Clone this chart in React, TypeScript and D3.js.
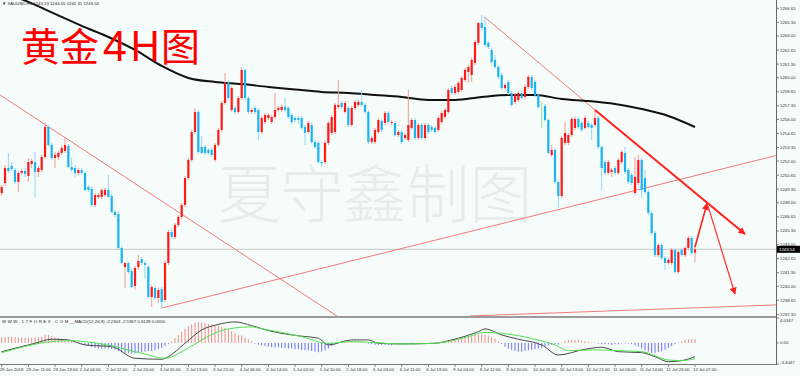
import React from "react";
import * as d3 from "d3";

// ---------- DATA ----------
// [open, high, low, close] for each H1 bar, 29 Jun 03:00 .. 12 Jul 07:00
const ohlc: number[][] = [
  [1248.94,1249.71,1248.65,1249.52],[1249.90,1251.63,1249.61,1251.34],[1251.34,1252.78,1250.86,1251.05],[1251.53,1251.91,1251.05,1251.24],
  [1251.15,1251.34,1249.80,1250.00],[1250.00,1251.05,1249.04,1250.86],[1250.86,1251.24,1250.67,1251.05],[1251.05,1251.34,1250.48,1250.76],
  [1250.57,1252.30,1250.00,1251.91],[1251.72,1252.20,1251.34,1252.01],[1251.91,1252.87,1248.56,1250.96],[1250.96,1251.53,1250.48,1251.34],
  [1251.15,1252.59,1250.96,1252.39],[1252.39,1255.66,1252.20,1255.27],[1255.27,1255.46,1253.35,1253.54],[1253.54,1253.74,1252.11,1252.30],
  [1252.30,1252.87,1251.34,1252.59],[1252.39,1252.97,1252.11,1252.78],[1252.78,1253.45,1252.59,1253.26],[1252.97,1254.22,1252.78,1253.54],
  [1253.45,1253.64,1251.34,1251.43],[1251.43,1252.30,1250.96,1251.15],[1251.34,1251.63,1250.48,1250.86],[1250.86,1251.34,1250.67,1251.15],
  [1251.15,1251.34,1250.67,1250.86],[1250.86,1251.05,1249.13,1249.23],[1249.52,1249.71,1249.04,1249.23],[1249.33,1249.61,1247.60,1247.79],
  [1247.79,1248.94,1247.60,1248.75],[1248.56,1248.94,1248.37,1248.75],[1248.56,1249.42,1248.37,1249.23],[1248.75,1249.42,1248.56,1249.23],
  [1249.23,1250.67,1248.46,1248.56],[1248.65,1248.94,1247.02,1247.12],[1247.12,1247.31,1246.64,1246.83],[1246.93,1247.22,1243.57,1243.67],
  [1243.67,1243.86,1242.13,1242.23],[1241.84,1242.32,1239.83,1242.23],[1242.23,1242.42,1241.17,1241.37],[1241.46,1241.75,1239.83,1239.93],
  [1240.02,1241.94,1239.64,1241.75],[1241.84,1242.99,1241.56,1242.42],[1242.61,1242.80,1242.04,1242.23],[1242.23,1242.42,1240.79,1242.04],
  [1241.84,1242.04,1238.87,1238.97],[1238.97,1240.12,1238.01,1239.93],[1239.83,1240.02,1238.68,1238.87],[1238.87,1239.83,1238.39,1239.64],
  [1239.73,1239.93,1237.91,1238.49],[1238.68,1242.42,1238.49,1242.23],[1242.23,1245.39,1242.04,1245.20],[1245.20,1245.49,1244.53,1244.72],
  [1244.72,1246.06,1244.53,1245.87],[1245.87,1246.83,1245.68,1246.64],[1246.64,1247.98,1246.45,1247.79],[1247.79,1250.57,1247.60,1250.38],
  [1250.38,1252.30,1250.19,1252.11],[1252.11,1254.99,1251.91,1254.79],[1254.79,1257.09,1254.60,1256.71],[1256.71,1256.90,1252.68,1252.87],
  [1253.35,1254.31,1252.68,1252.78],[1253.35,1253.54,1252.59,1252.78],[1253.07,1253.26,1252.59,1252.78],[1253.07,1253.26,1252.39,1252.59],
  [1252.11,1253.74,1251.91,1253.54],[1253.54,1255.18,1253.35,1254.99],[1254.99,1257.76,1254.79,1257.57],[1257.57,1260.45,1257.38,1259.49],
  [1259.49,1259.78,1257.86,1258.05],[1256.90,1259.20,1256.71,1259.01],[1257.09,1257.29,1256.52,1256.71],[1256.71,1258.24,1256.52,1258.05],
  [1258.05,1261.02,1257.86,1260.74],[1260.74,1260.83,1257.86,1258.05],[1258.05,1258.24,1256.52,1256.71],[1256.71,1257.09,1256.52,1256.90],
  [1257.09,1257.29,1256.52,1256.71],[1256.90,1257.09,1254.03,1254.79],[1254.79,1256.33,1254.60,1256.13],[1255.75,1256.61,1255.56,1256.42],
  [1256.13,1256.61,1255.94,1256.42],[1255.75,1256.42,1255.56,1256.23],[1256.23,1258.53,1256.04,1256.90],[1256.90,1257.29,1256.71,1257.09],
  [1256.90,1257.38,1256.71,1257.19],[1257.19,1258.05,1256.71,1256.90],[1257.09,1257.29,1256.04,1256.23],[1256.42,1256.61,1255.56,1255.75],
  [1256.13,1256.33,1255.75,1255.94],[1256.13,1256.33,1255.56,1255.94],[1256.13,1256.33,1254.99,1255.18],[1255.27,1255.46,1253.54,1254.70],
  [1254.79,1255.85,1254.60,1255.66],[1255.46,1255.75,1253.64,1253.83],[1253.83,1254.03,1253.16,1253.35],[1253.74,1253.93,1251.72,1251.91],
  [1251.91,1252.11,1251.43,1251.82],[1251.91,1253.93,1251.72,1253.74],[1253.74,1255.85,1253.54,1255.66],[1254.70,1256.42,1254.50,1256.23],
  [1254.79,1257.57,1254.60,1257.38],[1257.19,1259.78,1257.00,1257.38],[1257.57,1257.76,1257.00,1257.19],[1256.71,1257.76,1256.52,1257.57],
  [1257.09,1257.29,1255.27,1255.46],[1255.46,1257.29,1255.27,1257.09],[1257.09,1257.86,1256.90,1257.67],[1257.38,1257.86,1257.19,1257.67],
  [1257.67,1258.82,1257.19,1257.38],[1257.38,1257.57,1256.52,1256.71],[1256.71,1256.90,1253.64,1253.83],[1253.83,1254.41,1253.64,1254.22],
  [1253.83,1255.18,1253.64,1254.99],[1254.79,1256.13,1254.60,1255.94],[1255.85,1256.04,1254.79,1254.99],[1255.66,1256.80,1255.46,1256.61],
  [1256.61,1256.80,1255.56,1255.75],[1255.66,1255.94,1255.46,1255.75],[1255.66,1255.85,1254.31,1254.50],[1254.50,1254.99,1254.31,1254.79],
  [1254.79,1254.99,1253.64,1253.83],[1254.22,1254.70,1254.03,1254.50],[1254.03,1258.82,1253.83,1255.46],[1255.18,1256.13,1254.99,1255.94],
  [1255.94,1256.13,1254.03,1254.22],[1254.22,1255.66,1254.03,1255.46],[1255.46,1255.66,1254.03,1254.22],[1254.22,1255.66,1254.03,1255.46],
  [1255.46,1255.66,1254.60,1254.79],[1255.27,1255.46,1254.79,1254.99],[1255.18,1255.37,1254.60,1254.79],[1254.99,1256.33,1254.79,1256.13],
  [1255.75,1256.80,1255.56,1256.61],[1256.23,1257.09,1256.04,1256.90],[1256.71,1259.01,1256.52,1258.82],[1259.01,1259.20,1258.34,1258.53],
  [1258.53,1259.30,1258.34,1259.11],[1258.63,1259.68,1258.44,1259.49],[1258.82,1260.16,1258.63,1259.97],[1259.78,1260.93,1259.59,1260.74],
  [1260.55,1261.22,1259.49,1261.02],[1260.26,1261.89,1259.59,1261.70],[1261.41,1263.61,1261.22,1263.42],[1263.33,1265.34,1263.13,1265.24],
  [1265.24,1266.01,1264.57,1264.76],[1264.86,1265.82,1262.94,1263.13],[1263.33,1263.52,1262.75,1262.94],[1262.66,1262.85,1261.31,1261.50],
  [1261.70,1262.18,1260.83,1261.02],[1261.02,1261.22,1259.87,1260.07],[1260.26,1260.45,1258.82,1259.01],[1259.01,1259.49,1258.82,1259.30],
  [1259.59,1259.78,1258.34,1258.53],[1258.53,1258.72,1257.19,1257.38],[1257.67,1258.53,1257.48,1258.34],[1257.86,1258.72,1257.67,1258.53],
  [1258.53,1258.72,1257.86,1258.05],[1258.15,1259.30,1257.96,1259.11],[1259.11,1260.26,1258.92,1260.07],[1260.07,1260.26,1258.82,1259.01],
  [1259.59,1259.78,1258.15,1258.34],[1258.34,1258.53,1257.00,1257.19],[1257.38,1257.67,1255.18,1257.38],[1257.29,1257.48,1255.75,1255.94],
  [1255.94,1256.13,1252.68,1252.78],[1252.59,1253.54,1252.39,1253.07],[1253.07,1253.26,1249.80,1250.00],[1250.00,1250.19,1247.50,1248.65],
  [1248.65,1254.41,1248.46,1254.22],[1253.74,1255.75,1253.54,1254.70],[1253.74,1254.70,1253.54,1254.50],[1254.50,1256.23,1254.31,1256.04],
  [1255.18,1256.23,1254.99,1256.04],[1256.04,1256.23,1255.08,1255.27],[1255.66,1255.85,1254.79,1254.99],[1255.18,1256.33,1254.99,1256.13],
  [1255.66,1255.85,1255.08,1255.27],[1255.46,1255.66,1254.03,1255.18],[1255.46,1256.90,1255.27,1256.13],[1256.13,1256.33,1253.16,1253.35],
  [1253.35,1253.54,1249.23,1251.34],[1251.91,1252.11,1250.67,1250.86],[1250.86,1252.11,1250.67,1251.91],[1250.96,1251.34,1250.48,1251.15],
  [1251.34,1251.53,1250.67,1250.86],[1250.86,1252.30,1250.67,1252.11],[1251.91,1253.07,1251.72,1252.87],[1252.78,1253.35,1250.76,1250.96],
  [1251.15,1251.34,1249.80,1250.00],[1250.67,1250.86,1249.71,1249.90],[1248.94,1252.39,1248.75,1250.48],[1249.90,1252.59,1249.71,1252.11],
  [1252.11,1252.30,1248.46,1249.23],[1250.38,1251.15,1248.85,1249.04],[1249.04,1249.23,1246.83,1247.02],[1247.02,1247.22,1244.91,1245.10],
  [1245.10,1245.30,1242.80,1242.99],[1242.99,1244.15,1242.80,1243.95],[1243.95,1244.15,1242.52,1242.71],[1242.71,1242.90,1241.56,1242.23],
  [1242.23,1242.71,1242.04,1242.52],[1242.23,1243.67,1242.04,1243.48],[1243.48,1243.67,1241.27,1241.37],[1241.37,1243.48,1241.17,1243.28],
  [1243.48,1243.67,1242.80,1242.99],[1242.99,1243.86,1242.80,1243.67],[1243.67,1244.82,1243.48,1244.63],[1244.63,1244.82,1242.99,1243.19],
  [1243.23,1244.05,1242.31,1243.54],
];

const lastPrice = 1243.54;

// slow moving average (black), sampled every 8 bars: [barIndex, price]
const maPts: number[][] = [
  [0,1268.22],[8,1267.26],[16,1266.11],[24,1264.96],[32,1263.90],[40,1262.66],[48,1261.12],[56,1259.97],
  [64,1259.59],[72,1259.39],[80,1259.11],[88,1258.87],[96,1258.63],[104,1258.53],[112,1258.34],[120,1258.15],
  [128,1257.86],[136,1257.86],[144,1258.15],[152,1258.34],[160,1258.34],[168,1257.96],[176,1257.76],[184,1257.48],
  [192,1257.00],[200,1256.33],[208,1255.27],
];

// MACD(12,26,9) lines: [barIndex, value]
const difPts: number[][] = [
  [0,-1.41],[10,-0.05],[15,0.60],[20,0.49],[25,-0.32],[33,-0.60],[40,-2.48],[48,-2.64],[50,-2.22],[55,-0.05],
  [60,2.10],[65,3.0],[70,3.40],[75,2.8],[80,2.0],[85,1.46],[90,1.1],[95,0.76],[98,-0.32],[105,0.49],[110,0.49],
  [113,-0.05],[120,-0.16],[130,-0.05],[135,0.49],[143,1.83],[145,2.27],[150,1.29],[155,0.60],[162,-0.32],
  [167,-1.94],[175,-1.02],[180,-0.70],[185,-1.41],[192,-1.57],[196,-2.22],[200,-3.03],[204,-2.86],[208,-2.23],
];
const deaPts: number[][] = [
  [0,-1.57],[15,0.21],[20,0.37],[30,-0.16],[42,-1.67],[49,-2.48],[55,-1.13],[60,0.49],[65,1.83],[70,2.43],
  [75,2.6],[78,2.3],[90,1.02],[98,-0.05],[105,0.21],[120,-0.16],[130,-0.05],[140,1.02],[145,1.7],[150,1.55],
  [160,0.6],[166,-0.32],[170,-1.25],[178,-1.13],[185,-1.25],[192,-1.41],[200,-2.75],[204,-2.86],[208,-2.54],
];
const hist: number[] = [
  0.9,0.95,1.0,1.0,0.95,0.9,0.9,0.85, 0.85,0.9,0.9,0.9,1.0,1.35,1.3,1.1,
  0.9,0.8,0.7,0.6,0.4,0.3,0.2,0.1, -0.1,-0.3,-0.5,-0.7,-0.8,-0.9,-0.9,-0.9,
  -0.9,-1.0,-1.1,-1.3,-1.5,-1.6,-1.65,-1.7, -1.7,-1.6,-1.5,-1.4,-1.3,-1.3,-1.2,-1.0,
  -0.8,-0.5,-0.2,0.3,0.8,1.3,1.8,2.3, 2.7,3.0,3.3,3.4,3.3,3.2,3.1,3.0,
  2.9,2.8,2.6,2.4,2.2,1.9,1.6,1.3, 1.2,0.9,0.6,0.3,-0.1,-0.3,-0.4,-0.5,
  -0.6,-0.7,-0.7,-0.7,-0.8,-0.8,-0.9,-0.9, -1.0,-1.0,-1.1,-1.2,-1.2,-1.3,-1.4,-1.5,
  -1.4,-1.2,-0.9,-0.5,-0.2,0.1,0.2,0.2, 0.1,0.2,0.2,0.2,0.2,0.1,-0.1,-0.2,
  -0.3,-0.3,-0.3,-0.3,-0.3,-0.3,-0.2,-0.2, -0.1,-0.1,0.02,0.1,0.02,0.02,-0.1,0.02,
  0.02,-0.1,0.02,0.1,0.2,0.3,0.5,0.6, 0.7,0.8,0.9,1.0,1.1,1.2,1.3,1.35,
  1.35,1.3,1.2,1.0,0.7,0.3,-0.2,-0.6, -0.9,-1.1,-1.3,-1.4,-1.4,-1.3,-1.2,-1.1,
  -1.0,-0.9,-0.8,-0.6,-0.4,-0.3,-0.2,-0.3, 0.1,0.3,0.4,0.5,0.5,0.5,0.4,0.3,
  0.2,0.1,0.1,-0.1,-0.2,-0.2,-0.2,-0.3, -0.2,-0.2,-0.1,-0.1,-0.1,-0.2,-0.4,-0.6,
  -0.9,-1.2,-1.4,-1.6,-1.6,-1.5,-1.3,-1.1, -0.8,-0.5,-0.2,0.1,0.3,0.5,0.6,0.6,
  0.61,
];

const priceTicks: string[] = [
  "1266.65","1265.30","1264.00","1262.65","1261.30","1260.00","1258.65","1257.30","1256.00","1254.65",
  "1253.30","1252.00","1250.65","1249.30","1248.00","1246.65","1245.30","1244.00","1242.65","1241.30",
  "1240.00","1238.65","1237.30",
];
const macdTicks: string[] = ["4.0347", "0.00", "-3.4047"];

// a time label every 8 bars
const timeLabels: string[] = [
  "29 Jun 2018","29 Jun 11:00","29 Jun 19:00","2 Jul 04:00","2 Jul 12:00","2 Jul 20:00","3 Jul 05:00",
  "3 Jul 13:00","3 Jul 21:00","4 Jul 06:00","4 Jul 14:00","5 Jul 02:00","5 Jul 10:00","5 Jul 18:00",
  "6 Jul 03:00","6 Jul 11:00","6 Jul 19:00","9 Jul 04:00","9 Jul 12:00","9 Jul 20:00","10 Jul 05:00",
  "10 Jul 13:00","10 Jul 21:00","11 Jul 06:00","11 Jul 14:00","11 Jul 23:00","12 Jul 07:00",
];

// hand-drawn trend lines: [barIndex, price] pairs
const trendDown1: number[][] = [[-0.5,1258.34],[101,1237.05]];
const trendUp: number[][] = [[48,1237.91],[232.3,1252.53]];
const trendPeakThin: number[][] = [[144.7,1265.85],[178,1256.90]];
const trendPeakThick: number[][] = [[178,1256.90],[223,1245.01]];
const arrowUp: number[][] = [[208,1243.77],[211.6,1247.94]];
const arrowDown: number[][] = [[211.9,1247.70],[220,1239.26]];
const trendBottom: number[][] = [[140.5,1237.15],[232.3,1238.21]];

// ---------- CHART ----------
const AX = 776;
const MAIN_B = 316;
const M_TOP = 318;
const M_BOT = 364;

export default function App() {
  const xs = d3.scaleLinear().domain([0, 208]).range([1.7, 695]);
  const ys = d3.scaleLinear().domain([1237.3, 1266.65]).range([314.4, 8.3]);
  const ym = d3.scaleLinear().domain([-3.4047, 4.0347]).range([M_BOT, M_TOP]);

  const priceLine = d3.line<number[]>().x(d => xs(d[0])).y(d => ys(d[1]));
  const maLine = d3.line<number[]>().x(d => xs(d[0])).y(d => ys(d[1])).curve(d3.curveMonotoneX);
  const mLine = d3.line<number[]>().x(d => xs(d[0])).y(d => ym(d[1])).curve(d3.curveMonotoneX);

  const red = "#ff1a1a", redWick = "#f49a9a";
  const blue = "#18b4f2", blueWick = "#8fd6f6";
  const tickFont = 4.3;
  const cjk = "'Noto Sans CJK SC', sans-serif";

  return (
    <svg width={800} height={376} viewBox="0 0 800 376"
      style={{ position: "absolute", left: 0, top: 0, display: "block" }}
      fontFamily="'Liberation Sans', 'DejaVu Sans', Arial, sans-serif">
      <defs>
        <clipPath id="mainClip"><rect x={0} y={0} width={AX} height={MAIN_B} /></clipPath>
        <clipPath id="macdClip"><rect x={0} y={M_TOP} width={AX} height={M_BOT - M_TOP} /></clipPath>
        <marker id="ahead" viewBox="0 0 10 10" refX="9" refY="5" markerUnits="userSpaceOnUse"
          markerWidth="8" markerHeight="7" orient="auto">
          <path d="M0,0 L10,5 L0,10 z" fill="#ff2020" />
        </marker>
      </defs>
      <rect x={0} y={0} width={800} height={376} fill="#f5fcf9" />

      {/* watermark */}
      <text x={375} y={217} textAnchor="middle" fontSize={63} fill="#e6ecea"
        fontFamily={cjk} fontWeight={300}>夏守鑫制图</text>

      <g clipPath="url(#mainClip)">
        {/* current price line */}
        <line x1={0} x2={AX} y1={ys(lastPrice)} y2={ys(lastPrice)} stroke="#c4c8c6" strokeWidth={1} />
        {/* thin trend lines */}
        {[trendDown1, trendUp, trendPeakThin, trendBottom].map((t, k) => (
          <path key={k} d={priceLine(t) || ""} stroke="#f27a7a" strokeWidth={1} fill="none" />
        ))}
        {/* moving average */}
        <path d={maLine(maPts) || ""} stroke="#111" strokeWidth={2} fill="none" />
        {/* candles */}
        {ohlc.map((d, i) => {
          const [o, h, l, c] = d;
          const x = xs(i);
          if (o === c) {
            return <line key={i} x1={x} x2={x} y1={ys(h)} y2={ys(l)} stroke="#8fe08f" strokeWidth={1} />;
          }
          const up = c > o;
          const top = ys(Math.max(o, c));
          const bot = ys(Math.min(o, c));
          return (
            <g key={i}>
              <line x1={x} x2={x} y1={ys(h)} y2={ys(l)} stroke={up ? redWick : blueWick} strokeWidth={1} />
              <rect x={x - 1.1} y={top} width={2.2} height={Math.max(1, bot - top)} fill={up ? red : blue} />
            </g>
          );
        })}
        {/* thick annotation lines with arrows */}
        <path d={priceLine(trendPeakThick) || ""} stroke="#ff2020" strokeWidth={2} fill="none" markerEnd="url(#ahead)" />
        <path d={priceLine(arrowUp) || ""} stroke="#ff2020" strokeWidth={1.6} fill="none" markerEnd="url(#ahead)" />
        <path d={priceLine(arrowDown) || ""} stroke="#ff3030" strokeWidth={1.2} fill="none" markerEnd="url(#ahead)" />
      </g>

      {/* MACD panel */}
      <g clipPath="url(#macdClip)">
        {hist.map((v, i) => (
          <line key={i} x1={xs(i)} x2={xs(i)} y1={ym(0)} y2={ym(v)}
            stroke={v >= 0 ? "#f28c8c" : "#7070ee"} strokeWidth={1} />
        ))}
        <path d={mLine(difPts) || ""} stroke="#4a4a4a" strokeWidth={1} fill="none" />
        <path d={mLine(deaPts) || ""} stroke="#55e055" strokeWidth={1} fill="none" />
      </g>

      {/* frames */}
      <line x1={0} x2={AX} y1={MAIN_B + 0.5} y2={MAIN_B + 0.5} stroke="#9a9a9a" strokeWidth={1} />
      <line x1={0} x2={AX} y1={M_TOP - 0.5} y2={M_TOP - 0.5} stroke="#9a9a9a" strokeWidth={1} />
      <line x1={0} x2={AX} y1={M_BOT + 0.5} y2={M_BOT + 0.5} stroke="#777" strokeWidth={1} />
      <line x1={AX + 0.5} x2={AX + 0.5} y1={0} y2={M_BOT + 1} stroke="#666" strokeWidth={1} />

      {/* price axis */}
      {priceTicks.map((t) => {
        const y = ys(+t);
        return (
          <g key={t}>
            <line x1={AX} x2={AX + 3} y1={y} y2={y} stroke="#666" strokeWidth={0.8} />
            <text x={AX + 4} y={y} dy="0.35em" fontSize={tickFont} fill="#333">{t}</text>
          </g>
        );
      })}
      <rect x={AX + 1} y={ys(lastPrice) - 3.5} width={23} height={7} fill="#000" />
      <text x={AX + 3} y={ys(lastPrice)} dy="0.35em" fontSize={tickFont} fill="#fff">{lastPrice.toFixed(2)}</text>

      {/* MACD axis */}
      {[4.0347, 0, -3.4047].map((v, k) => (
        <g key={k}>
          <line x1={AX} x2={AX + 3} y1={ym(v)} y2={ym(v)} stroke="#666" strokeWidth={0.8} />
          <text x={AX + 4} y={k === 0 ? ym(v) + 2 : k === 2 ? ym(v) - 1.5 : ym(v)} dy="0.35em"
            fontSize={tickFont} fill="#333">{macdTicks[k]}</text>
        </g>
      ))}

      {/* time axis */}
      {timeLabels.map((t, k) => {
        const x = xs(k * 8);
        return (
          <g key={t}>
            <line x1={x} x2={x} y1={M_BOT + 1} y2={M_BOT + 3} stroke="#666" strokeWidth={0.8} />
            <text x={x - 2} y={370.5} fontSize={tickFont} fill="#333">{t}</text>
          </g>
        );
      })}

      {/* headers */}
      <text x={2} y={5} fontSize={4.3} fill="#222">▼ XAUUSD,H1  1243.23 1244.05 1242.31 1243.54</text>
      <text x={2} y={322.5} fontSize={4.3} fill="#222">
        <tspan letterSpacing={1.6}>WWW.17FOREX.COM</tspan>
        <tspan>__MACD(12,26,9) -2.2303 -2.5367 0.6128 0.0000</tspan>
      </text>

      {/* title */}
      <text y={61} fill="#ff0000">
        <tspan x={21} fontSize={39} fontFamily={cjk}>黄金</tspan>
        <tspan x={103} fontSize={41} fontFamily="'Noto Sans', sans-serif">4</tspan>
        <tspan x={130} fontSize={41} fontFamily="'Noto Sans', sans-serif">H</tspan>
        <tspan x={161} fontSize={39} fontFamily={cjk}>图</tspan>
      </text>
    </svg>
  );
}
